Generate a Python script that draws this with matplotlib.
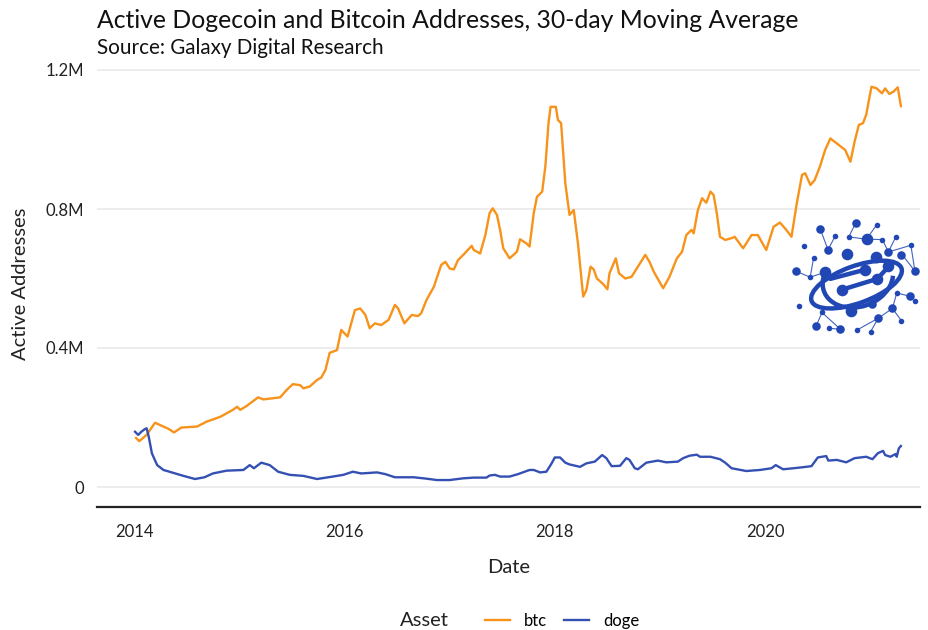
import matplotlib
matplotlib.use("Agg")
import matplotlib.pyplot as plt
from matplotlib.patches import Ellipse, Arc

plt.rcParams['font.family'] = ['Lato', 'DejaVu Sans']

# 30-day moving average of active addresses, millions
btc_year = [2014.02, 2014.05, 2014.12, 2014.20, 2014.28, 2014.33, 2014.38, 2014.45, 2014.60, 2014.69,
            2014.82, 2014.94, 2014.98, 2015.01, 2015.07, 2015.18, 2015.23, 2015.39, 2015.45, 2015.51,
            2015.58, 2015.61, 2015.67, 2015.74, 2015.78, 2015.82, 2015.86, 2015.93, 2015.97, 2016.03,
            2016.10, 2016.15, 2016.20, 2016.24, 2016.29, 2016.35, 2016.42, 2016.48, 2016.51, 2016.57,
            2016.64, 2016.70, 2016.73, 2016.78, 2016.85, 2016.92, 2016.96, 2017.00, 2017.04, 2017.08,
            2017.13, 2017.21, 2017.23, 2017.29, 2017.34, 2017.38, 2017.41, 2017.45, 2017.48, 2017.51,
            2017.57, 2017.64, 2017.67, 2017.73, 2017.76, 2017.80, 2017.83, 2017.88, 2017.91, 2017.94,
            2017.96, 2018.01, 2018.03, 2018.06, 2018.10, 2018.14, 2018.18, 2018.22, 2018.27, 2018.30,
            2018.34, 2018.37, 2018.40, 2018.46, 2018.50, 2018.52, 2018.58, 2018.61, 2018.67, 2018.73,
            2018.79, 2018.86, 2018.90, 2018.94, 2019.03, 2019.09, 2019.16, 2019.21, 2019.25, 2019.30,
            2019.32, 2019.36, 2019.40, 2019.44, 2019.48, 2019.51, 2019.54, 2019.57, 2019.62, 2019.68,
            2019.71, 2019.79, 2019.87, 2019.93, 2020.01, 2020.08, 2020.14, 2020.20, 2020.25, 2020.30,
            2020.35, 2020.38, 2020.43, 2020.47, 2020.52, 2020.57, 2020.62, 2020.68, 2020.76, 2020.81,
            2020.85, 2020.89, 2020.93, 2020.96, 2021.01, 2021.06, 2021.11, 2021.14, 2021.18, 2021.22,
            2021.26, 2021.29]
btc_m = [0.141, 0.132, 0.150, 0.185, 0.174, 0.167, 0.157, 0.171, 0.174, 0.188,
         0.202, 0.222, 0.231, 0.222, 0.233, 0.258, 0.252, 0.258, 0.279, 0.296,
         0.293, 0.284, 0.289, 0.308, 0.315, 0.337, 0.386, 0.394, 0.452, 0.433,
         0.509, 0.514, 0.495, 0.457, 0.471, 0.466, 0.481, 0.524, 0.514, 0.471,
         0.495, 0.492, 0.500, 0.538, 0.576, 0.639, 0.648, 0.629, 0.626, 0.653,
         0.668, 0.694, 0.682, 0.672, 0.725, 0.788, 0.802, 0.783, 0.740, 0.687,
         0.658, 0.677, 0.713, 0.701, 0.692, 0.788, 0.835, 0.850, 0.922, 1.047,
         1.094, 1.094, 1.056, 1.047, 0.874, 0.783, 0.797, 0.701, 0.548, 0.567,
         0.634, 0.626, 0.600, 0.584, 0.569, 0.615, 0.658, 0.615, 0.600, 0.605,
         0.634, 0.668, 0.648, 0.620, 0.572, 0.605, 0.658, 0.677, 0.725, 0.740,
         0.730, 0.797, 0.831, 0.818, 0.850, 0.840, 0.788, 0.720, 0.711, 0.716,
         0.720, 0.687, 0.725, 0.725, 0.682, 0.749, 0.761, 0.740, 0.720, 0.816,
         0.898, 0.903, 0.869, 0.883, 0.922, 0.970, 1.003, 0.989, 0.970, 0.936,
         0.994, 1.042, 1.047, 1.071, 1.152, 1.147, 1.133, 1.147, 1.131, 1.138,
         1.150, 1.096]

doge_year = [2014.01, 2014.04, 2014.07, 2014.10, 2014.12, 2014.14, 2014.17, 2014.22, 2014.28, 2014.37,
             2014.47, 2014.58, 2014.67, 2014.75, 2014.88, 2015.04, 2015.10, 2015.14, 2015.21, 2015.29,
             2015.37, 2015.48, 2015.61, 2015.74, 2015.89, 2015.99, 2016.08, 2016.16, 2016.31, 2016.39,
             2016.48, 2016.66, 2016.78, 2016.88, 2017.00, 2017.13, 2017.23, 2017.35, 2017.38, 2017.43,
             2017.48, 2017.57, 2017.65, 2017.76, 2017.80, 2017.86, 2017.92, 2017.97, 2018.00, 2018.05,
             2018.10, 2018.14, 2018.24, 2018.30, 2018.38, 2018.45, 2018.49, 2018.54, 2018.62, 2018.68,
             2018.71, 2018.76, 2018.79, 2018.87, 2018.98, 2019.06, 2019.17, 2019.22, 2019.28, 2019.35,
             2019.38, 2019.48, 2019.57, 2019.62, 2019.68, 2019.82, 2019.95, 2020.06, 2020.10, 2020.17,
             2020.27, 2020.36, 2020.44, 2020.50, 2020.58, 2020.60, 2020.68, 2020.77, 2020.85, 2020.96,
             2021.02, 2021.07, 2021.12, 2021.14, 2021.19, 2021.24, 2021.25, 2021.27, 2021.29]
doge_m = [0.159, 0.150, 0.159, 0.166, 0.169, 0.145, 0.097, 0.063, 0.049, 0.041,
          0.032, 0.023, 0.028, 0.039, 0.047, 0.049, 0.063, 0.054, 0.070, 0.063,
          0.044, 0.035, 0.032, 0.023, 0.030, 0.035, 0.044, 0.039, 0.042, 0.037,
          0.028, 0.028, 0.024, 0.020, 0.020, 0.025, 0.027, 0.027, 0.033, 0.035,
          0.030, 0.030, 0.037, 0.049, 0.049, 0.042, 0.044, 0.068, 0.085, 0.085,
          0.070, 0.065, 0.058, 0.068, 0.073, 0.092, 0.083, 0.060, 0.061, 0.083,
          0.078, 0.054, 0.051, 0.070, 0.076, 0.071, 0.073, 0.083, 0.090, 0.093,
          0.087, 0.087, 0.080, 0.070, 0.054, 0.046, 0.049, 0.054, 0.063, 0.051,
          0.054, 0.057, 0.060, 0.085, 0.089, 0.076, 0.078, 0.071, 0.083, 0.087,
          0.080, 0.097, 0.104, 0.092, 0.087, 0.095, 0.087, 0.111, 0.118]

year_ticks = [2014, 2016, 2018, 2020]
value_ticks = [0, 0.4, 0.8, 1.2]
value_labels = ["0", "0.4M", "0.8M", "1.2M"]

BTC_COLOR = "#F7931A"
DOGE_COLOR = "#3550B3"
LOGO_COLOR = "#2147B5"

W, H = 929, 630
fig = plt.figure(figsize=(W / 100, H / 100), dpi=100)
ax = fig.add_axes([97 / W, 1 - 507 / H, (920 - 97) / W, (507 - 60) / H])

ax.plot(btc_year, btc_m, color=BTC_COLOR, lw=1.7, label="btc")
ax.plot(doge_year, doge_m, color=DOGE_COLOR, lw=1.7, label="doge")

# pixel mapping: 2014.0 -> x=134, 105.2 px/year ; 0 -> y=487, 347.5 px per million
ax.set_xlim(2014 - 37 / 105.2, 2014 + 786 / 105.2)
ax.set_ylim(-20 / 347.5, 1.2 + 10 / 347.5)

ax.set_yticks(value_ticks)
ax.set_yticklabels(value_labels)
ax.set_xticks(year_ticks)
ax.set_xticklabels([str(y) for y in year_ticks])
ax.tick_params(length=0, labelsize=12, colors="#222222", pad=9)
ax.tick_params(axis="x", pad=12)
ax.grid(axis="y", color="#e8e8e8", lw=1.1)
ax.set_axisbelow(True)
for s in ["top", "right", "left"]:
    ax.spines[s].set_visible(False)
ax.spines["bottom"].set_color("#222222")
ax.spines["bottom"].set_linewidth(1.6)

ax.set_xlabel("Date", fontsize=14.5, color="#222222", labelpad=14)
ax.set_ylabel("Active Addresses", fontsize=14.5, color="#222222", labelpad=12)

fig.text(97 / W, 1 - 21 / H, "Active Dogecoin and Bitcoin Addresses, 30-day Moving Average",
         fontsize=17.8, va="center", ha="left", color="#111111")
fig.text(97 / W, 1 - 48 / H, "Source: Galaxy Digital Research",
         fontsize=14.9, va="center", ha="left", color="#111111")

# legend at the bottom, title on the left
fig.text(424 / W, 1 - 621 / H, "Asset", fontsize=14.5, ha="center", va="center", color="#222222")
fig.legend(handles=ax.get_lines(), labels=["btc", "doge"], ncol=2, frameon=False,
           loc="center", bbox_to_anchor=(562 / W, 1 - 621 / H), fontsize=12,
           handlelength=1.5, columnspacing=1.0, handletextpad=0.85)


def draw_logo(fig):
    lax = fig.add_axes([780 / W, 1 - 340 / H, 150 / W, 130 / H])
    lax.set_xlim(0, 447)
    lax.set_ylim(387, 0)
    lax.axis("off")
    c = LOGO_COLOR
    # thin connectors
    links = [((120, 57), (143, 118)), ((165, 77), (143, 118)),
             ((225, 40), (205, 80)), ((205, 80), (258, 87)), ((288, 44), (258, 87)),
             ((258, 87), (305, 88)), ((305, 88), (323, 125)), ((345, 80), (323, 125)),
             ((323, 125), (390, 105)), ((390, 105), (402, 182)), ((362, 130), (402, 182)),
             ((100, 143), (90, 200)), ((90, 200), (47, 182)), ((90, 200), (135, 185)),
             ((125, 305), (108, 345)), ((145, 352), (180, 355)), ((125, 305), (180, 355)),
             ((230, 357), (293, 322)), ((293, 322), (270, 362)), ((293, 322), (335, 293)),
             ((335, 293), (362, 330)), ((335, 293), (348, 247)), ((348, 247), (388, 257))]
    for (x0, y0), (x1, y1) in links:
        lax.plot([x0, x1], [y0, y1], color=c, lw=0.8, alpha=0.85)
    # ring and swirl
    lax.add_patch(Ellipse((228, 222), 285, 110, angle=-20, fill=False, ec=c, lw=3.2))
    lax.add_patch(Arc((232, 205), 215, 165, angle=-20, theta1=15, theta2=205, ec=c, lw=3.2))
    lax.plot([185, 290, 322], [237, 205, 170], color=c, lw=3.2, solid_capstyle="round")
    lax.plot([252, 150], [178, 205], color=c, lw=3.2, solid_capstyle="round")
    big = [(200, 130), (285, 140), (135, 185), (185, 237), (252, 178), (290, 205),
           (322, 168), (213, 300), (258, 87)]
    mid = [(120, 57), (143, 118), (225, 40), (47, 182), (323, 125), (362, 133), (402, 182),
           (108, 345), (180, 355), (293, 322), (335, 293), (388, 257), (275, 280)]
    small = [(165, 77), (205, 80), (288, 44), (305, 88), (345, 80), (390, 105), (73, 108),
             (100, 143), (90, 200), (58, 287), (125, 305), (145, 352), (230, 357), (270, 362),
             (362, 330), (348, 247), (402, 270)]
    lax.scatter(*zip(*big), s=70, color=c, zorder=3, lw=0)
    lax.scatter(*zip(*mid), s=38, color=c, zorder=3, lw=0)
    lax.scatter(*zip(*small), s=16, color=c, zorder=3, lw=0)


draw_logo(fig)

fig.savefig("out.png", dpi=100, facecolor="white")
